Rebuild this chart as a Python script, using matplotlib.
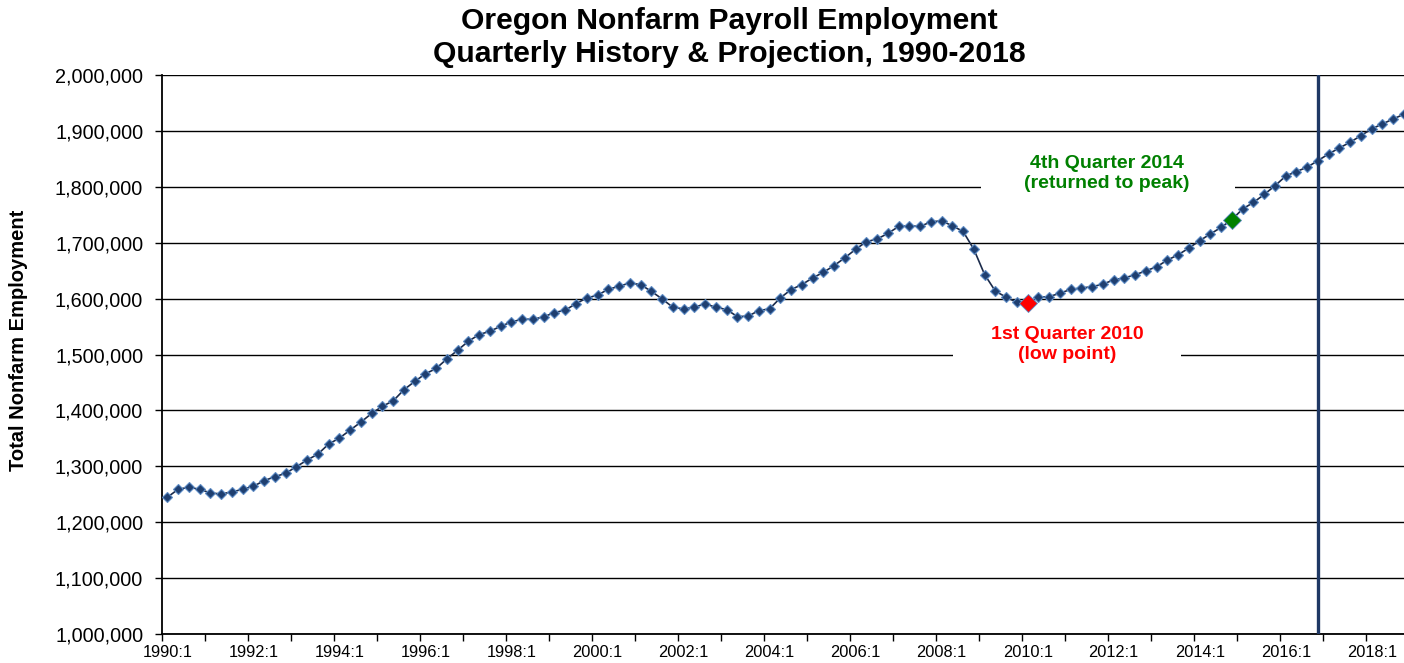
import matplotlib
matplotlib.use("Agg")
import matplotlib.pyplot as plt
from matplotlib.patches import Rectangle
from matplotlib.ticker import FuncFormatter, FixedLocator

plt.rcParams['font.family'] = ['Liberation Sans', 'DejaVu Sans']

# Quarterly Oregon nonfarm payroll employment, 1990:1 - 2018:4
years = list(range(1990, 2019))
quarters = [f"{y}:{q}" for y in years for q in range(1, 5)]
employment = [
    1244600, 1258900, 1262500, 1258900, 1252300, 1250500, 1254100, 1258900,
    1264300, 1274300, 1281400, 1287500, 1299300, 1311200, 1321900, 1339800,
    1350500, 1364800, 1379100, 1394600, 1407500, 1417000, 1437000, 1451800,
    1465500, 1475000, 1492300, 1507700, 1523800, 1535700, 1541600, 1550500,
    1558300, 1563100, 1563100, 1567300, 1575100, 1579200, 1591100, 1601000,
    1606200, 1616600, 1622000, 1628000, 1625000, 1613100, 1599500, 1584600,
    1581600, 1584600, 1590500, 1584600, 1580400, 1567900, 1568500, 1578600,
    1581600, 1601200, 1616100, 1625000, 1636900, 1647000, 1659000, 1673000,
    1688100, 1701800, 1706600, 1716500, 1729000, 1730200, 1729000, 1737400,
    1739100, 1730200, 1720100, 1688100, 1643000, 1613300, 1602600, 1593200,
    1592700, 1602300, 1603500, 1609600, 1616500, 1619000, 1621300, 1625800,
    1633500, 1637100, 1642500, 1649700, 1656900, 1668900, 1678400, 1690500,
    1703600, 1715700, 1727500, 1741400, 1760500, 1772000, 1786300, 1801800,
    1819200, 1827300, 1835100, 1846900, 1858900, 1869600, 1879800, 1891600,
    1903600, 1912500, 1921400, 1929800,
]
low_q = "2010:1"
peak_q = "2014:4"
forecast_q = "2016:4"

x = list(range(len(quarters)))
low_i = quarters.index(low_q)
peak_i = quarters.index(peak_q)
fc_i = quarters.index(forecast_q)

fig = plt.figure(figsize=(14.04, 6.63), dpi=100)
ax = fig.add_axes([162 / 1404, 1 - 634 / 663, 1 - 162 / 1404, (634 - 75) / 663])

ax.set_axisbelow(True)
ax.yaxis.grid(True, color="black", linewidth=1.0)
ax.set_ylim(1000000, 2000000)
ax.set_xlim(-0.5, 115.0)

# white boxes behind the annotations (break the gridlines like the original)
ax.add_patch(Rectangle((75.7, 1765000), 23.6, 80000, facecolor="white",
                       edgecolor="none", zorder=1))
ax.add_patch(Rectangle((73.1, 1465000), 21.2, 95000, facecolor="white",
                       edgecolor="none", zorder=1))

ax.plot(x, employment, color="#1b2b4b", linewidth=1.2, marker="D",
        markersize=5.2, markerfacecolor="#1f3f70", markeredgecolor="#5b8ac4",
        markeredgewidth=0.8, zorder=3, clip_on=True)
ax.plot(low_i, employment[low_i], marker="D", markersize=9.5, color="red",
        markeredgecolor="#5b8ac4", markeredgewidth=0.6, zorder=4)
ax.plot(peak_i, employment[peak_i], marker="D", markersize=9.5, color="green",
        markeredgecolor="#5b8ac4", markeredgewidth=0.6, zorder=4)

ax.axvline(fc_i, color="#1f3864", linewidth=2.4, zorder=5)

ax.text(87.4, 1823500, "4th Quarter 2014\n(returned to peak)", color="green",
        fontsize=14, fontweight="bold", ha="center", va="center",
        linespacing=1.2, zorder=6)
ax.text(83.7, 1518000, "1st Quarter 2010\n(low point)", color="red",
        fontsize=14, fontweight="bold", ha="center", va="center",
        linespacing=1.2, zorder=6)

# axes styling
for side in ["top", "right"]:
    ax.spines[side].set_visible(False)
ax.spines["left"].set_linewidth(1.3)
ax.spines["bottom"].set_linewidth(1.3)

ax.yaxis.set_major_formatter(FuncFormatter(lambda v, p: f"{int(v):,}"))
ax.set_yticks(range(1000000, 2000001, 100000))
ax.tick_params(axis="y", labelsize=14.3, length=5, width=1, direction="out", pad=8.5)

ax.xaxis.set_major_locator(FixedLocator([i - 0.5 for i in range(0, 116, 4)]))
ax.set_xticklabels([])
ax.xaxis.set_minor_locator(FixedLocator(x[::8]))
ax.xaxis.set_minor_formatter(FuncFormatter(lambda v, p: quarters[int(round(v))]))
ax.tick_params(axis="x", which="major", length=5, width=1, direction="out")
ax.tick_params(axis="x", which="minor", length=0, labelsize=11.8, pad=8)

fig.text(19 / 1404, 1 - 340 / 663, "Total Nonfarm Employment", rotation=90,
         fontsize=14.5, fontweight="bold", ha="center", va="center")

fig.text(729 / 1404, 1 - 29 / 663, "Oregon Nonfarm Payroll Employment",
         fontsize=21.7, fontweight="bold", ha="center", va="baseline")
fig.text(729 / 1404, 1 - 62 / 663, "Quarterly History & Projection, 1990-2018",
         fontsize=21.7, fontweight="bold", ha="center", va="baseline")

fig.savefig("out.png", dpi=100)
